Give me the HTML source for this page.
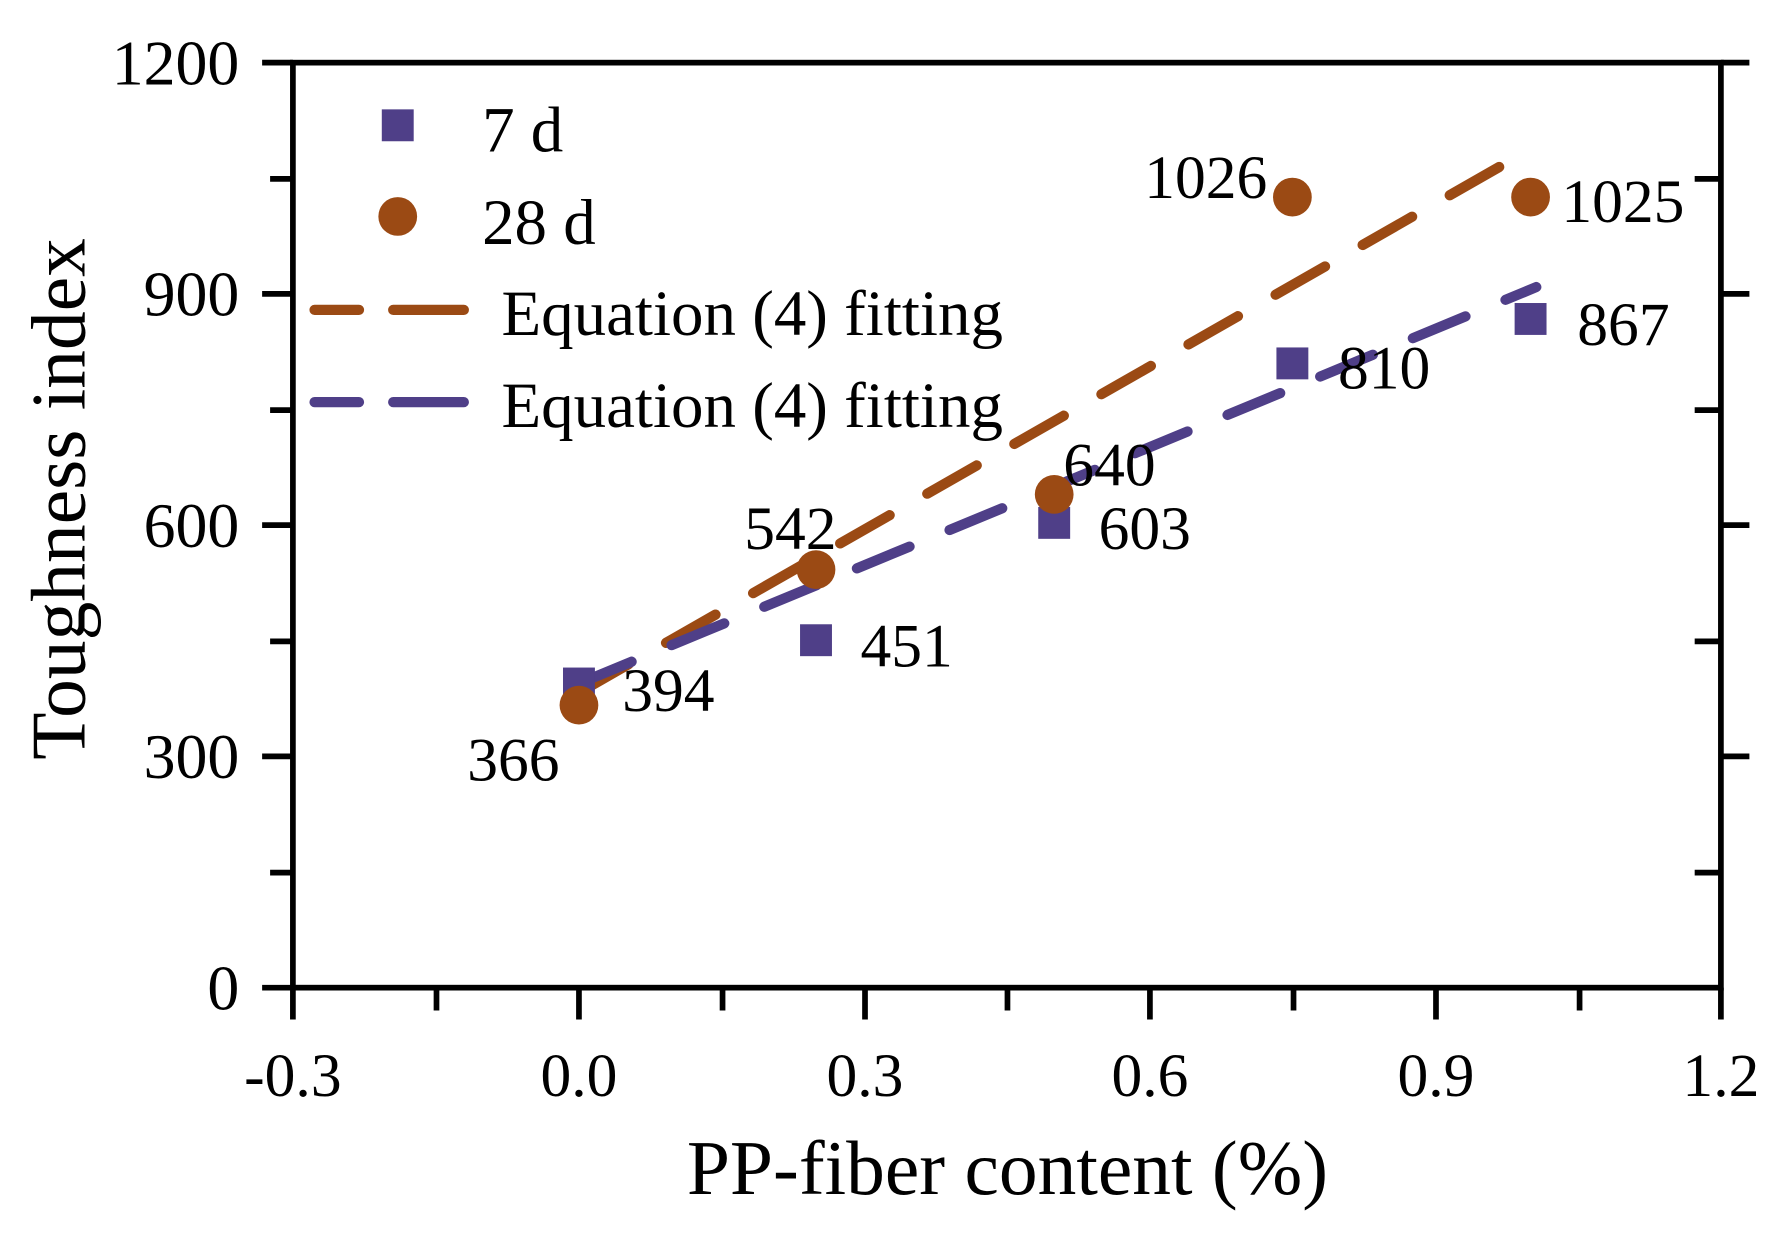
<!DOCTYPE html>
<html><head><style>html,body{margin:0;padding:0;background:#fff}svg{display:block}</style></head>
<body>
<svg width="1787" height="1236" viewBox="0 0 1568 1085" preserveAspectRatio="none" xmlns="http://www.w3.org/2000/svg" font-family="Liberation Serif, serif" fill="#000">
<g stroke="#000" stroke-width="5" fill="none">
<rect x="257" y="55" width="1253" height="812"/>
<path d="M230 55H257M230 258H257M230 461H257M230 664H257M230 867H257M237 157H257M237 360H257M237 563H257M237 766H257"/>
<path d="M1510 55H1535M1487 157H1510M1510 258H1535M1487 360H1510M1510 461H1535M1487 563H1510M1510 664H1535M1487 766H1510"/>
<path d="M257 867V895M508 867V895M759 867V895M1009 867V895M1260 867V895M1510 867V895M383 867V887M634 867V887M884 867V887M1135 867V887M1386 867V887"/>
</g>
<g font-size="56" text-anchor="end">
<text x="210" y="74">1200</text><text x="210" y="277">900</text><text x="210" y="480">600</text><text x="210" y="683">300</text><text x="210" y="886">0</text>
</g>
<g font-size="54" text-anchor="middle">
<text x="257" y="962">-0.3</text><text x="508" y="962">0.0</text><text x="759" y="962">0.3</text><text x="1009" y="962">0.6</text><text x="1260" y="962">0.9</text><text x="1510" y="962">1.2</text>
</g>
<text x="884" y="1048" font-size="68" text-anchor="middle">PP-fiber content (%)</text>
<text transform="translate(74 438) rotate(-90)" font-size="68" text-anchor="middle">Toughness index</text>
<g stroke-width="9" stroke-linecap="round" fill="none" stroke-dasharray="50 38">
<path d="M508 608L1348 128" stroke="#9b4a14"/>
<path d="M508 600L1348 252" stroke="#4f3f88"/>
</g>
<g fill="#4f3f88">
<rect x="494" y="586" width="28" height="28"/><rect x="702" y="548" width="28" height="28"/><rect x="911" y="445" width="28" height="28"/><rect x="1120" y="305" width="28" height="28"/><rect x="1329" y="266" width="28" height="28"/>
<rect x="335" y="96" width="28" height="28"/>
</g>
<g fill="#9b4a14">
<circle cx="508" cy="619" r="17"/><circle cx="716" cy="500" r="17"/><circle cx="925" cy="434" r="17"/><circle cx="1134" cy="173" r="17"/><circle cx="1343" cy="173" r="17"/>
<circle cx="349" cy="190" r="17"/>
</g>
<g font-size="54">
<text x="546" y="624">394</text><text x="410" y="685">366</text><text x="653" y="482">542</text><text x="755" y="585">451</text>
<text x="933" y="426">640</text><text x="964" y="482">603</text><text x="1004" y="174">1026</text><text x="1174" y="341">810</text>
<text x="1370" y="195">1025</text><text x="1384" y="303">867</text>
</g>
<g stroke-width="9" stroke-linecap="round" fill="none">
<path d="M276 272H315M345 272H407" stroke="#9b4a14"/>
<path d="M276 353H315M345 353H407" stroke="#4f3f88"/>
</g>
<g font-size="57">
<text x="423" y="133">7 d</text><text x="423" y="214">28 d</text>
<text x="440" y="294">Equation (4) fitting</text><text x="440" y="375">Equation (4) fitting</text>
</g>
</svg>
</body></html>
